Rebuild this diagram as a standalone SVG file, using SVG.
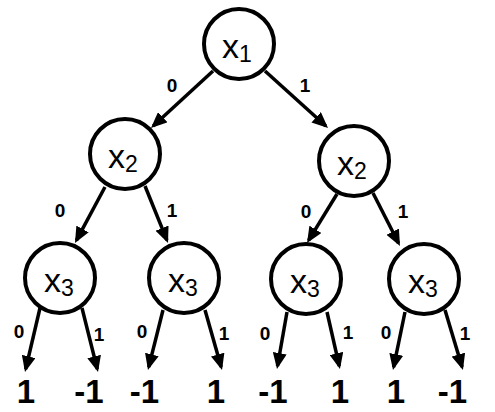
<svg xmlns="http://www.w3.org/2000/svg" width="495" height="412" viewBox="0 0 495 412">
<style>
.node{fill:#fff;stroke:#000;stroke-width:4}
.nl{font-family:"Liberation Sans",Arial,sans-serif;font-size:34px;fill:#000;text-anchor:middle}
.sub{font-size:23px}
.edge{stroke:#000;stroke-width:3.5;fill:none;marker-end:url(#ah)}
.el{font-family:"Liberation Sans",Arial,sans-serif;font-size:19px;font-weight:bold;fill:#000;text-anchor:middle}
.leaf{font-family:"Liberation Sans",Arial,sans-serif;font-size:33px;font-weight:bold;fill:#000;text-anchor:middle}
</style>
<defs>
<marker id="ah" markerUnits="userSpaceOnUse" markerWidth="16" markerHeight="14" viewBox="0 0 16 14" refX="13" refY="7" orient="auto">
<path d="M0,0 L16,7 L0,14 z" fill="#000"/>
</marker>
</defs>
<g id="connectors">
<line class="edge" x1="213" y1="71" x2="153.2" y2="126"/>
<line class="edge" x1="265" y1="71" x2="325.8" y2="126"/>
<line class="edge" x1="105" y1="187" x2="76.4" y2="240.4"/>
<line class="edge" x1="145" y1="186" x2="166.9" y2="240.2"/>
<line class="edge" x1="337" y1="194" x2="308.6" y2="240.4"/>
<line class="edge" x1="373" y1="193" x2="398.6" y2="243.3"/>
<line class="edge" x1="40" y1="308" x2="25.7" y2="369.1"/>
<line class="edge" x1="82" y1="308" x2="97.3" y2="369.1"/>
<line class="edge" x1="163" y1="310" x2="148.7" y2="367.1"/>
<line class="edge" x1="205" y1="310" x2="221.2" y2="367.1"/>
<line class="edge" x1="287" y1="312" x2="277.5" y2="366"/>
<line class="edge" x1="327" y1="312" x2="339.3" y2="366.1"/>
<line class="edge" x1="405" y1="312" x2="393.6" y2="367.1"/>
<line class="edge" x1="445" y1="310" x2="462.1" y2="367.1"/>
<text class="el" x="172" y="92">0</text>
<text class="el" x="305" y="92">1</text>
<text class="el" x="60" y="217">0</text>
<text class="el" x="172" y="217">1</text>
<text class="el" x="306" y="218">0</text>
<text class="el" x="403" y="218">1</text>
<text class="el" x="19" y="338">0</text>
<text class="el" x="99" y="341">1</text>
<text class="el" x="142" y="338">0</text>
<text class="el" x="224" y="340">1</text>
<text class="el" x="265" y="340">0</text>
<text class="el" x="348" y="339">1</text>
<text class="el" x="386" y="339">0</text>
<text class="el" x="465" y="340">1</text>
</g>
<g id="n-root"><circle class="node" cx="239" cy="44" r="35"/><text class="nl" x="237" y="58">x<tspan class="sub" dy="4">1</tspan></text></g>
<g id="n-x2-left"><circle class="node" cx="125" cy="154" r="35"/><text class="nl" x="123" y="168">x<tspan class="sub" dy="4">2</tspan></text></g>
<g id="n-x2-right"><circle class="node" cx="354" cy="161" r="35"/><text class="nl" x="352" y="175">x<tspan class="sub" dy="4">2</tspan></text></g>
<g id="n-x3-1"><circle class="node" cx="60" cy="278" r="35"/><text class="nl" x="59" y="292">x<tspan class="sub" dy="4">3</tspan></text></g>
<g id="n-x3-2"><circle class="node" cx="184" cy="278" r="35"/><text class="nl" x="183" y="292">x<tspan class="sub" dy="4">3</tspan></text></g>
<g id="n-x3-3"><circle class="node" cx="306" cy="279" r="35"/><text class="nl" x="305" y="293">x<tspan class="sub" dy="4">3</tspan></text></g>
<g id="n-x3-4"><circle class="node" cx="424" cy="279" r="35"/><text class="nl" x="423" y="293">x<tspan class="sub" dy="4">3</tspan></text></g>
<g id="leaves">
<text class="leaf" x="26" y="403">1</text>
<text class="leaf" x="89" y="403">-1</text>
<text class="leaf" x="144.5" y="403">-1</text>
<text class="leaf" x="216" y="403">1</text>
<text class="leaf" x="273" y="403">-1</text>
<text class="leaf" x="340" y="403">1</text>
<text class="leaf" x="396" y="403">1</text>
<text class="leaf" x="452.5" y="403">-1</text>
</g>
</svg>
